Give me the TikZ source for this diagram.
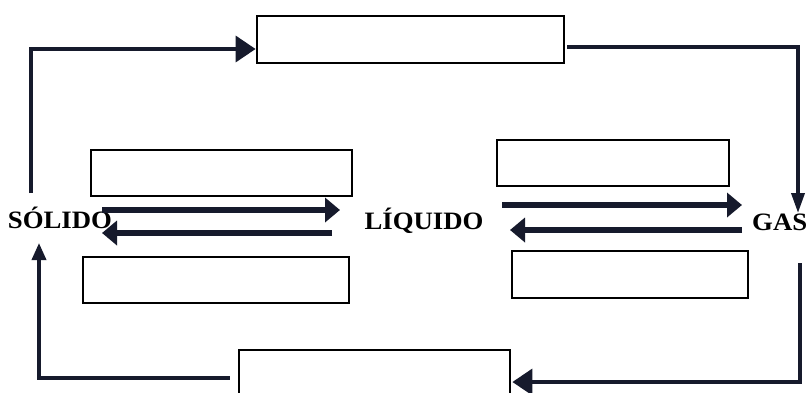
\documentclass[tikz,border=0pt]{standalone}
\usepackage{fontspec}
\setmainfont{Liberation Serif}
\usetikzlibrary{arrows.meta,calc}
\definecolor{ink}{RGB}{22,26,44}
\tikzset{
    blank/.style = {
        draw=black,
        line width=2.8pt,
        inner sep=0pt,
        },
    state/.style = {
        font=\fontsize{25}{25}\selectfont\bfseries,
        text=black,
        xscale=1.07,
        inner sep=0pt,
        anchor=base,
        },
    change/.style = {
        draw=ink,
        line width=6pt,
        -{Triangle[length=15pt,width=24pt]},
        },
    loop/.style = {
        draw=ink,
        line width=3.6pt,
        },
    loop tip/.style = {
        loop,
        -{Triangle[length=20pt,width=26pt]},
        },
}
\begin{document}
\begin{tikzpicture}[x=1pt,y=-1pt]
            \useasboundingbox (0,0) rectangle (806,392);
            \clip (0,0) rectangle (806,392);
            \fill[white] (0,0) rectangle (806,392);

            % states
            \node[state] (s) at (60,228) {SÓLIDO};
            \node[state] (l) at (424,229) {LÍQUIDO};
            \node[state, anchor=base west] (g) at (752,230) {GAS};

            % empty boxes
            \node[blank, minimum width=307pt, minimum height=47pt] (top) at (410.5,39.5) {};
            \node[blank, minimum width=271pt, minimum height=70pt] (bot) at (374.5,385) {};
            \node[blank, minimum width=261pt, minimum height=46pt] (sl1) at (221.5,173) {};
            \node[blank, minimum width=266pt, minimum height=46pt] (sl2) at (216,280) {};
            \node[blank, minimum width=232pt, minimum height=46pt] (lg1) at (613,163) {};
            \node[blank, minimum width=236pt, minimum height=47pt] (lg2) at (630,274.5) {};

            % ends of the connectors
            \coordinate (s1) at (102,210);
            \coordinate (l1) at (340,210);
            \coordinate (l2) at (332,233);
            \coordinate (s2) at (102,233);
            \coordinate (l3) at (502,205);
            \coordinate (g1) at (742,205);
            \coordinate (g2) at (742,230);
            \coordinate (l4) at (510,230);
            \coordinate (s3) at (31,193);
            \coordinate (g3) at (798,213);
            \coordinate (g4) at (800,263);
            \coordinate (s4) at (39,243);

            \path[change] (s1) -- (l1);
            \path[change] (l2) -- (s2);
            \path[change] (l3) -- (g1);
            \path[change] (g2) -- (l4);

            \path[loop tip] (s3) |- ($(top.west)+(0,9.5)$);
            \path[loop, -{Triangle[length=20pt,width=13pt]}] ($(top.east)+(2,7.5)$) -| (g3);
            \path[loop tip] (g4) |- ($(bot.east)+(1,-3)$);
            \path[loop, -{Triangle[length=17pt,width=14pt]}] ($(bot.west)+(-8,-7)$) -| (s4);
        \end{tikzpicture}
\end{document}
